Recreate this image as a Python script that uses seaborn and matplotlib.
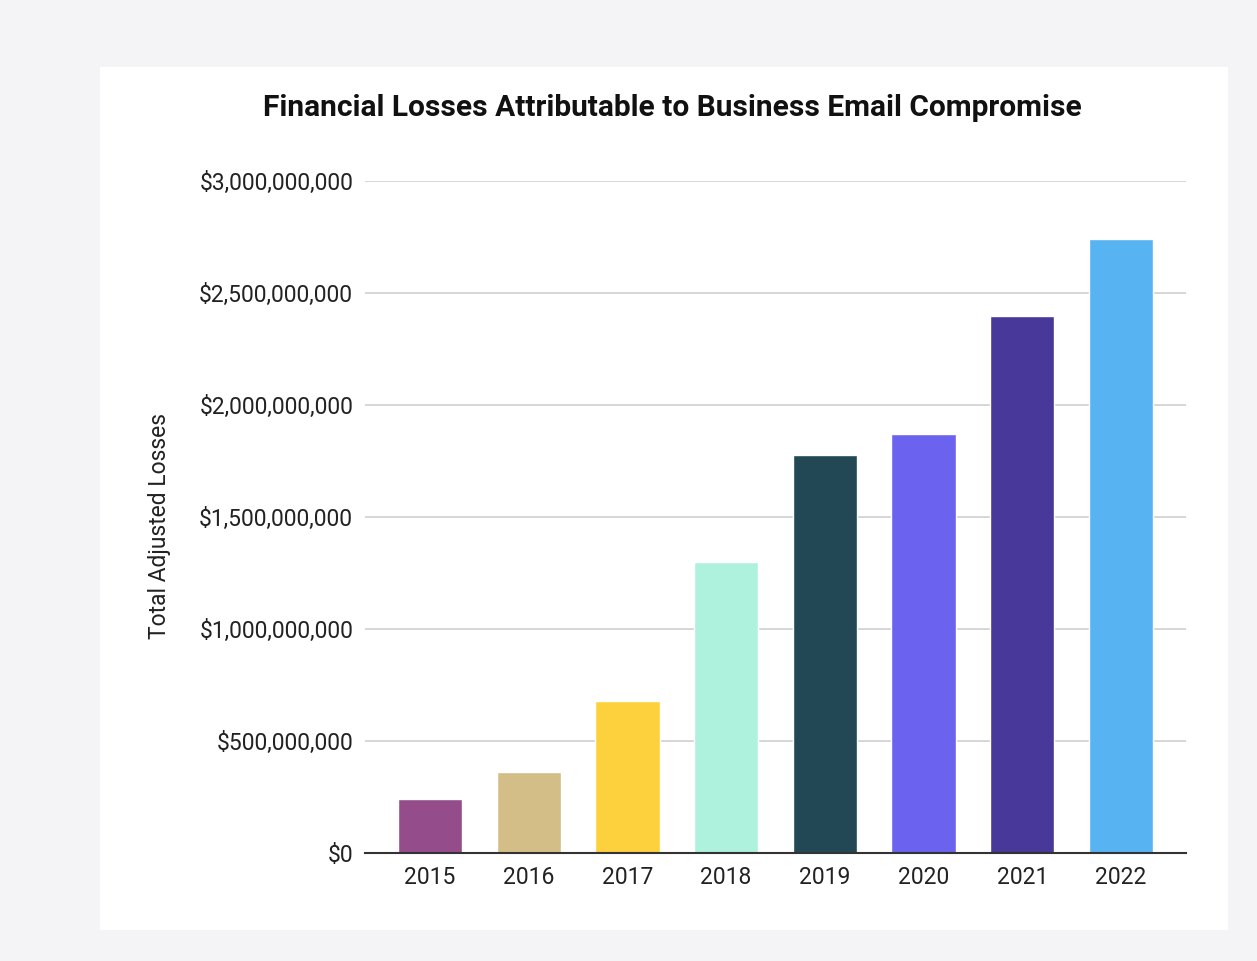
import matplotlib
matplotlib.use("Agg")
import matplotlib.pyplot as plt
from matplotlib.patches import Rectangle
from matplotlib.ticker import FuncFormatter
import seaborn as sns
import pandas as pd

# Data: adjusted BEC losses by year (USD)
years = ["2015", "2016", "2017", "2018", "2019", "2020", "2021", "2022"]
losses = [241_000_000, 362_000_000, 678_000_000, 1_299_000_000,
          1_777_000_000, 1_870_000_000, 2_396_000_000, 2_742_000_000]
bar_colors = ["#944c8b", "#d4be88", "#fdd13d", "#aef2de",
              "#224855", "#6b63f0", "#483899", "#58b3f3"]
y_ticks = [0, 500_000_000, 1_000_000_000, 1_500_000_000,
           2_000_000_000, 2_500_000_000, 3_000_000_000]

sns.set_theme(style="white")
plt.rcParams["font.family"] = ["Roboto", "DejaVu Sans"]

W, H = 1257, 961
fig = plt.figure(figsize=(W / 100, H / 100), dpi=100, facecolor="#f4f4f6")

# white card behind the chart
fig.patches.append(Rectangle((100 / W, 1 - 930 / H), 1128 / W, 863 / H,
                             transform=fig.transFigure, facecolor="white",
                             edgecolor="none", zorder=-5))

ax = fig.add_axes([365 / W, 1 - 853 / H, 821 / W, 672 / H])
ax.set_facecolor("none")
ax.set_zorder(2)

df = pd.DataFrame({"year": years, "loss": losses})
sns.barplot(data=df, x="year", y="loss", hue="year", palette=bar_colors,
            legend=False, width=0.65, saturation=1, ax=ax, zorder=3)

ax.set_ylim(0, 3_000_000_000)
ax.set_xlim(-0.66, 7.66)
ax.set_yticks(y_ticks)
ax.yaxis.set_major_formatter(FuncFormatter(lambda v, p: f"${v:,.0f}"))
ax.set_axisbelow(True)
ax.grid(axis="y", color="#d3d3d3", linewidth=1.3)
ax.grid(axis="x", visible=False)
for s in ["top", "right", "left"]:
    ax.spines[s].set_visible(False)
ax.spines["bottom"].set_color("#333333")
ax.spines["bottom"].set_linewidth(1.5)
ax.spines["bottom"].set_zorder(4)

ax.tick_params(axis="y", length=0, pad=8.5, labelsize=16.4, labelcolor="#222222")
ax.tick_params(axis="x", length=0, pad=9, labelsize=16.5, labelcolor="#222222")
ax.set_xlabel("")
ax.set_ylabel("Total Adjusted Losses", fontsize=16.5, color="#222222", labelpad=20.5)
ax.yaxis.label.set_y(0.487)

fig.text((263 + 1082) / 2 / W, 1 - 108 / H,
         "Financial Losses Attributable to Business Email Compromise",
         ha="center", va="center", fontsize=21.5, fontweight="bold", color="#111111")

fig.savefig("out.png", dpi=100, facecolor=fig.get_facecolor())
